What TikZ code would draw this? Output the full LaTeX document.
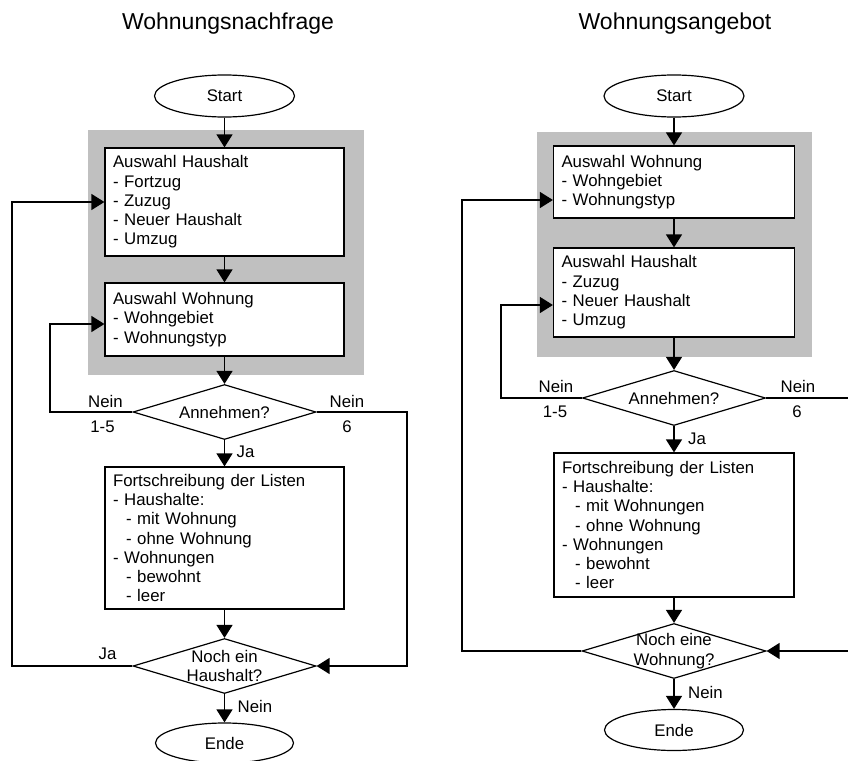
\documentclass[tikz,border=0pt]{standalone}
\usepackage{fontspec}
\setmainfont{Liberation Sans}
\usepackage{xcolor}
\usetikzlibrary{shapes.geometric, arrows.meta}

\definecolor{panel}{HTML}{C0C0C0}
\newcommand{\indsub}{\hspace*{13pt}}

\begin{document}
\begin{tikzpicture}[x=1pt, y=-1pt,
  every node/.style={font=\fontsize{16.8}{19.3}\selectfont},
  box/.style={draw, fill=white, line width=1.2pt, align=left, text width=223pt,
    inner xsep=8pt, inner ysep=4pt},
  dec/.style={draw, fill=white, diamond, line width=1.2pt, inner sep=0pt,
    minimum width=183pt, minimum height=55pt},
  dectext/.style={align=center, inner sep=0pt},
  term/.style={draw, fill=white, ellipse, line width=1.2pt,
    minimum width=140pt, minimum height=42pt},
  lbl/.style={inner sep=0pt},
  arr/.style={line width=1.3pt, -{Triangle[length=13pt, width=16pt]}},
  title/.style={font=\fontsize{23}{27}\selectfont}]
  \useasboundingbox (0,0) rectangle (848,760);

  % Wohnungsnachfrage
  \node[title] (t1) at (228,23.5) {Wohnungsnachfrage};
  \fill[panel] (88,130) rectangle (364,375);
  \node[term] (s1) at (224.5,96) {Start};
  \node[box, minimum height=108pt] (b1) at (224.5,202)
  {Auswahl Haushalt\\- Fortzug\\- Zuzug\\- Neuer Haushalt\\- Umzug};
  \node[box, minimum height=73pt] (b2) at (224.5,319.5)
  {Auswahl Wohnung\\- Wohngebiet\\- Wohnungstyp};
  \node[dec, label={[dectext, name=d1t]center:Annehmen?}] (d1) at (224.5,412) {};
  \node[box, minimum height=142pt] (b3) at (224.5,538)
  {Fortschreibung der Listen\\- Haushalte:\\\indsub- mit Wohnung\\\indsub- ohne Wohnung\\- Wohnungen\\\indsub- bewohnt\\\indsub- leer};
  \node[dec, label={[dectext, name=d2t]center:{Noch ein\\Haushalt?}}] (d2) at (224.5,666) {};
  \node[term, minimum width=138pt, minimum height=40pt] (z1) at (224.5,743) {Ende};

  \coordinate (L1) at (50,0);
  \coordinate (L2) at (12,0);
  \coordinate (R1) at (407,0);

  \draw[arr] (s1) -- (b1);
  \draw[arr] (b1) -- (b2);
  \draw[arr] (b2) -- (d1);
  \draw[arr] (d1) -- (b3);
  \draw[arr] (b3) -- (d2);
  \draw[arr] (d2) -- (z1);
  \draw[arr] (d1.west) -- (d1.west -| L1) |- ([yshift=-4.5pt]b2.west);
  \draw[arr] (d1.east) -- (d1.east -| R1) |- (d2.east);
  \draw[arr] (d2.west) -- (d2.west -| L2) |- (b1.west);

  \node[lbl] (n1) at (105.5,401) {Nein};
  \node[lbl] (n2) at (102.5,427) {1-5};
  \node[lbl] (n3) at (347,401) {Nein};
  \node[lbl] (n4) at (347,427) {6};
  \node[lbl] (n5) at (245.5,452) {Ja};
  \node[lbl] (n6) at (107.5,653.5) {Ja};
  \node[lbl] (n7) at (255,706) {Nein};

  % Wohnungsangebot
  \node[title] (t2) at (675,23.5) {Wohnungsangebot};
  \fill[panel] (537,132) rectangle (812,357);
  \node[term] (s2) at (674,96) {Start};
  \node[box, text width=225pt, minimum height=72pt] (c1) at (674,182)
  {Auswahl Wohnung\\- Wohngebiet\\- Wohnungstyp};
  \node[box, text width=225pt, minimum height=89pt] (c2) at (674,292.5)
  {Auswahl Haushalt\\- Zuzug\\- Neuer Haushalt\\- Umzug};
  \node[dec, label={[dectext, name=e1t]center:Annehmen?}] (e1) at (674,398) {};
  \node[box, text width=224pt, minimum height=144pt] (c3) at (674,525)
  {Fortschreibung der Listen\\- Haushalte:\\\indsub- mit Wohnungen\\\indsub- ohne Wohnung\\- Wohnungen\\\indsub- bewohnt\\\indsub- leer};
  \node[dec, minimum width=184pt, label={[dectext, name=e2t]center:{Noch eine\\Wohnung?}}] (e2) at (674,651) {};
  \node[term, minimum width=139pt, minimum height=41pt] (z2) at (674,730) {Ende};

  \coordinate (L3) at (501,0);
  \coordinate (L4) at (462,0);
  \coordinate (R2) at (862,0);

  \draw[arr] (s2) -- (c1);
  \draw[arr] (c1) -- (c2);
  \draw[arr] (c2) -- (e1);
  \draw[arr] (e1) -- (c3);
  \draw[arr] (c3) -- (e2);
  \draw[arr] (e2) -- (z2);
  \draw[arr] (e1.west) -- (e1.west -| L3) |- ([yshift=-12.5pt]c2.west);
  \draw[arr] (e1.east) -- (e1.east -| R2) |- (e2.east);
  \draw[arr] (e2.west) -- (e2.west -| L4) |- ([yshift=-18pt]c1.west);

  \node[lbl] (m1) at (556,386) {Nein};
  \node[lbl] (m2) at (555,411.5) {1-5};
  \node[lbl] (m3) at (798,386) {Nein};
  \node[lbl] (m4) at (797,411.5) {6};
  \node[lbl] (m5) at (697,438.5) {Ja};
  \node[lbl] (m6) at (705.5,692.5) {Nein};
\end{tikzpicture}
\end{document}
